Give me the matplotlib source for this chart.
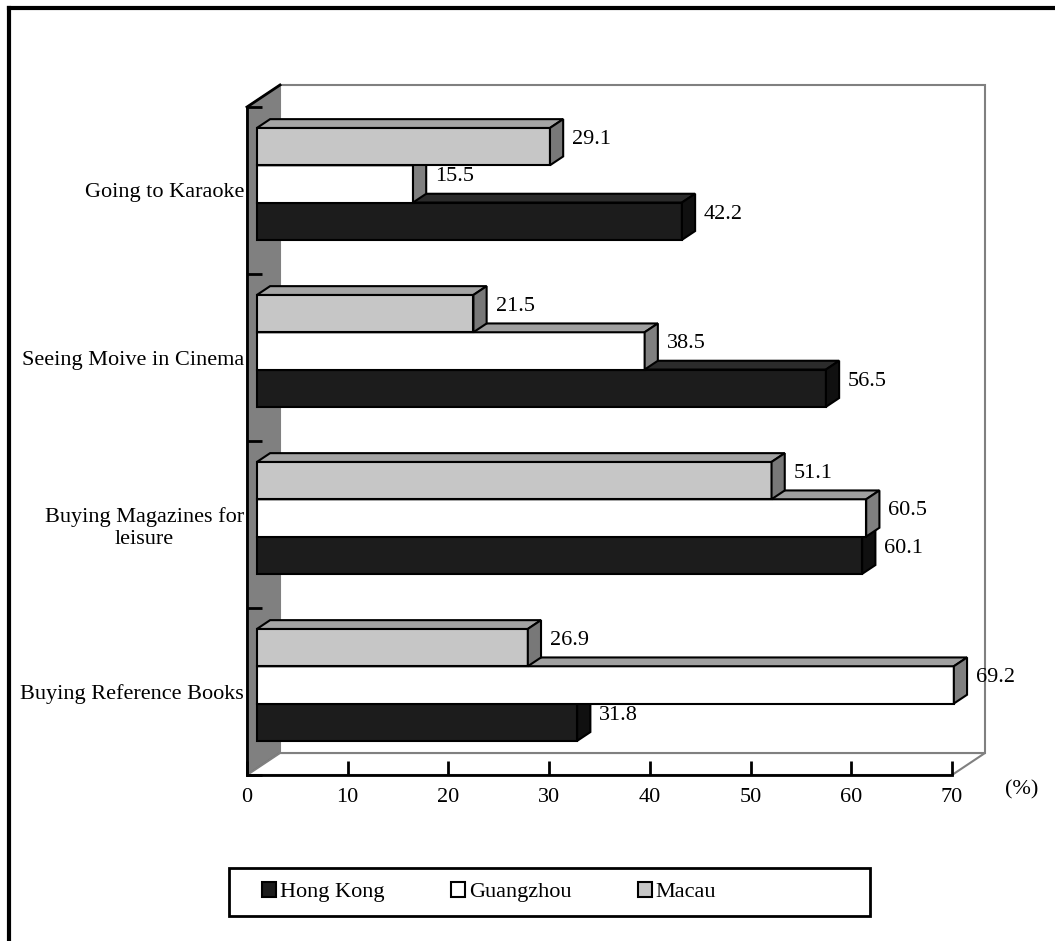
import matplotlib
matplotlib.use("Agg")
import matplotlib.pyplot as plt
from matplotlib.patches import Polygon, Patch, Rectangle
from matplotlib.lines import Line2D

plt.rcParams['font.family'] = ['Liberation Serif', 'DejaVu Serif']

# survey data, categories listed top to bottom
categories = ["Going to Karaoke", "Seeing Moive in Cinema",
              "Buying Magazines for\nleisure", "Buying Reference Books"]
series = ["Hong Kong", "Guangzhou", "Macau"]
hong_kong = [42.2, 56.5, 60.1, 31.8]
guangzhou = [15.5, 38.5, 60.5, 69.2]
macau = [29.1, 21.5, 51.1, 26.9]
x_ticks = [0, 10, 20, 30, 40, 50, 60, 70]

# face colours per series: front, top, side
face_colors = {
    "Hong Kong": ("#1c1c1c", "#2b2b2b", "#101010"),
    "Guangzhou": ("#ffffff", "#a0a0a0", "#808080"),
    "Macau": ("#c6c6c6", "#a4a4a4", "#787878"),
}
FS = 16

fig = plt.figure(figsize=(10.55, 9.41), dpi=100)
W, H = 1055, 941
ax = fig.add_axes([247 / W, (H - 775) / H, 705 / W, 668 / H])
xmax = 70
ncat = len(categories)
ax.set_xlim(0, xmax)
ax.set_ylim(0, ncat)

# depth of the 3d box expressed in data units
px_x = 705 / xmax
px_y = 668 / ncat
DX = 33 / px_x
DY = 22 / px_y

# left wall, floor and back wall
ax.add_patch(Polygon([(0, 0), (DX, DY), (DX, ncat + DY), (0, ncat)],
                     closed=True, facecolor="#808080", edgecolor="#505050",
                     lw=1.2, clip_on=False, zorder=1))
ax.add_patch(Polygon([(0, 0), (xmax, 0), (xmax + DX, DY), (DX, DY)],
                     closed=True, facecolor="white", edgecolor="#808080",
                     lw=1.5, clip_on=False, zorder=1))
ax.add_patch(Polygon([(DX, DY), (xmax + DX, DY), (xmax + DX, ncat + DY), (DX, ncat + DY)],
                     closed=True, facecolor="white", edgecolor="#808080",
                     lw=1.5, clip_on=False, zorder=1))
ax.add_line(Line2D([0, DX], [ncat, ncat + DY], color="black", lw=2,
                   clip_on=False, zorder=2))

bar_h = 37.3 / px_y
f0 = 0.3   # depth fraction of bar front face
fd = 0.4   # bar depth fraction
bdx, bdy = fd * DX, fd * DY
x0 = f0 * DX

values = {"Hong Kong": hong_kong, "Guangzhou": guangzhou, "Macau": macau}

for i, cat in enumerate(categories):
    center = ncat - 1 - i + 0.5 + f0 * DY
    for j, name in enumerate(series):
        v = values[name][i]
        y = center - 1.5 * bar_h + j * bar_h
        front_c, top_c, side_c = face_colors[name]
        z = 3 + j
        ax.add_patch(Polygon([(x0, y), (x0 + v, y), (x0 + v, y + bar_h), (x0, y + bar_h)],
                             closed=True, facecolor=front_c, edgecolor="black",
                             lw=1.5, clip_on=False, zorder=z))
        ax.add_patch(Polygon([(x0, y + bar_h), (x0 + v, y + bar_h),
                              (x0 + v + bdx, y + bar_h + bdy), (x0 + bdx, y + bar_h + bdy)],
                             closed=True, facecolor=top_c, edgecolor="black",
                             lw=1.5, clip_on=False, zorder=z))
        ax.add_patch(Polygon([(x0 + v, y), (x0 + v + bdx, y + bdy),
                              (x0 + v + bdx, y + bar_h + bdy), (x0 + v, y + bar_h)],
                             closed=True, facecolor=side_c, edgecolor="black",
                             lw=1.5, clip_on=False, zorder=z))
        ax.text(x0 + v + bdx + 9 / px_x, y + bar_h / 2 + bdy / 2 + 0.015,
                f"{v:.1f}", ha="left", va="center", fontsize=FS, zorder=10)

for s in ["top", "right"]:
    ax.spines[s].set_visible(False)
for s in ["left", "bottom"]:
    ax.spines[s].set_linewidth(2)
    ax.spines[s].set_zorder(8)
ax.patch.set_visible(False)

ax.set_xticks(x_ticks)
ax.set_xticklabels([str(t) for t in x_ticks])
ax.tick_params(axis="x", direction="in", length=10, width=2, pad=9, labelsize=FS)
ax.set_yticks(range(ncat + 1))
ax.set_yticklabels([])
ax.tick_params(axis="y", which="major", direction="in", length=11, width=2)
ax.set_yticks([ncat - 1 - i + 0.5 for i in range(ncat)], categories, minor=True)
ax.tick_params(axis="y", which="minor", length=0, pad=2, labelsize=FS)
for lab in ax.get_yticklabels(minor=True):
    lab.set_multialignment("center")

fig.text(1005 / W, 1 - 790 / H, "(%)", ha="left", va="center", fontsize=FS)

# outer frame
fig.add_artist(Line2D([9 / W, 1], [1 - 8 / H, 1 - 8 / H], color="black", lw=3,
                      transform=fig.transFigure))
fig.add_artist(Line2D([9 / W, 9 / W], [1 - 8 / H, 0], color="black", lw=3,
                      transform=fig.transFigure))

# legend box and entries
fig.add_artist(Rectangle((229 / W, (H - 916) / H), 641 / W, 48 / H,
                         transform=fig.transFigure, facecolor="white",
                         edgecolor="black", lw=2))
handles = [Patch(facecolor=face_colors[n][0], edgecolor="black", lw=1.5, label=n)
           for n in series]
leg = fig.legend(handles=handles, loc="center left", ncol=3,
                 bbox_to_anchor=(262 / W, (H - 892) / H),
                 fontsize=FS, handlelength=0.65, handleheight=0.65, handletextpad=0.15,
                 columnspacing=3.0, borderaxespad=0, borderpad=0, frameon=False)

fig.savefig("out.png", dpi=100)
